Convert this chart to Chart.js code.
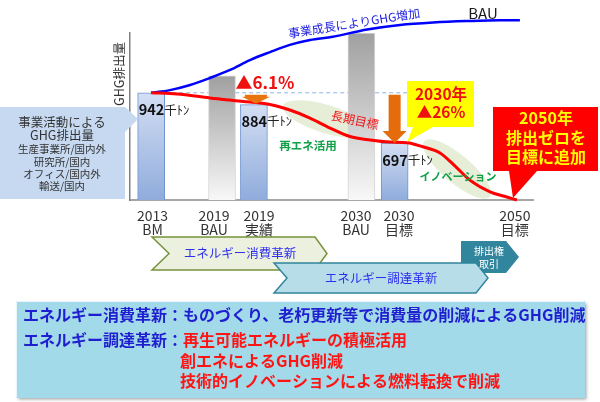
<!DOCTYPE html>
<html>
<head>
<meta charset="utf-8">
<script src="https://cdn.jsdelivr.net/npm/chart.js@4.4.1/dist/chart.umd.min.js"></script>
<style>
  html, body { margin: 0; padding: 0; background: #fff; }
  canvas { display: block; }
</style>
</head>
<body>
<canvas id="chart" width="600" height="402"></canvas>
<script>
const JP = '"Noto Sans CJK JP", "Noto Sans", sans-serif';

// 実績・目標 (千ﾄﾝ) : 2013 BM, 2019 実績, 2030 目標
const resultPos = [0.63, 3.69, 7.88];
const resultValues = [942, 884, 697];
// BAU : 2019, 2030
const bauPos = [2.74, 6.89];
const bauValues = [1024, 1233];

// 横軸ラベル
const tickPos = [0.67, 2.50, 3.84, 6.73, 8.01, 11.46];
const tickLabels = [['2013', 'BM'], ['2019', 'BAU'], ['2019', '実績'], ['2030', 'BAU'], ['2030', '目標'], ['2050', '目標']];

// BAU曲線 (事業成長によりGHG増加)
const bauLineX = [0.625, 1.19, 1.79, 2.38, 2.98, 3.57, 4.17, 4.76, 5.36, 6.04, 7.06, 8.04, 9.03, 10.03, 11.02, 11.61];
const bauLineY = [942, 955, 980, 1014, 1053, 1101, 1140, 1175, 1199, 1215, 1250, 1272, 1284, 1291, 1295, 1295];

// 長期目標曲線
const targetLineX = [0.625, 1.40, 2.38, 3.57, 4.17, 4.76, 5.36, 5.96, 6.55, 7.15, 7.74, 8.25, 8.72, 9.23, 9.68, 10.12, 10.72, 11.17, 11.52];
const targetLineY = [942, 936, 917, 897, 885, 858, 819, 770, 729, 712, 702, 699, 679, 649, 585, 517, 460, 437, 420];

function text(c, s, x, y, font, color, align = 'center', rot = 0) {
    c.save();
    c.font = font;
    c.fillStyle = color;
    c.textAlign = align;
    c.textBaseline = 'middle';
    c.translate(x, y);
    if (rot) c.rotate(rot * Math.PI / 180);
    c.fillText(s, 0, 0);
    c.restore();
}

function poly(c, pts, fill, stroke, lw) {
    c.beginPath();
    pts.forEach((p, i) => i ? c.lineTo(p[0], p[1]) : c.moveTo(p[0], p[1]));
    c.closePath();
    if (fill) { c.fillStyle = fill; c.fill(); }
    if (stroke) { c.strokeStyle = stroke; c.lineWidth = lw || 1; c.stroke(); }
}

function ellipse(c, x, y, rx, ry, deg, fill) {
    c.beginPath();
    c.ellipse(x, y, rx, ry, deg * Math.PI / 180, 0, Math.PI * 2);
    c.fillStyle = fill;
    c.fill();
}

function chevron(c, x0, x1, y0, y1, depth, notch, fill, stroke) {
    const ym = (y0 + y1) / 2;
    const pts = [[x0, y0], [x1, y0], [x1 + depth, ym], [x1, y1], [x0, y1]];
    if (notch) pts.push([x0 + notch, ym]);
    poly(c, pts, fill, stroke, 1.5);
}

const decor = {
    id: 'decor',
    beforeDatasetsDraw(chart) {
        const c = chart.ctx, sx = chart.scales.x, sy = chart.scales.y;
        c.save();
        // 再エネ活用・イノベーションの楕円
        ellipse(c, 326, 119, 45, 14, 17, '#e6eed8');
        ellipse(c, 457, 169, 43, 14, 40, '#e6eed8');
        // 基準年の破線
        const yb = sy.getPixelForValue(resultValues[0]);
        c.strokeStyle = '#8db3e2';
        c.lineWidth = 1;
        c.setLineDash([4, 3]);
        c.beginPath();
        c.moveTo(sx.getPixelForValue(resultPos[0]), yb);
        c.lineTo(sx.getPixelForValue(resultPos[2]) + 13, yb);
        c.stroke();
        c.restore();
    },
    afterDraw(chart) {
        const c = chart.ctx, sx = chart.scales.x, sy = chart.scales.y;
        c.save();

        // 縦軸タイトル
        text(c, 'GHG排出量', 119, 74, '12.5px ' + JP, '#333', 'center', -90);

        // 棒のラベル
        chart.getDatasetMeta(0).data.forEach((bar, i) => {
            const left = bar.x - bar.width / 2 + 1;
            const cy = bar.y + 17;
            const num = String(resultValues[i]);
            c.font = 'bold 14.5px ' + JP;
            const w = c.measureText(num).width;
            text(c, num, left, cy, 'bold 14.5px ' + JP, '#111', 'left');
            text(c, '千ﾄﾝ', left + w, cy, '12.5px ' + JP, '#222', 'left');
        });

        // 曲線のテキスト
        text(c, 'BAU', 483, 13, '15px ' + JP, '#1a1a1a');
        text(c, '事業成長によりGHG増加', 354, 23, '12px ' + JP, '#1c1ce0', 'center', -9);
        text(c, '長期目標', 355, 120, '12px ' + JP, '#f01818', 'center', 12);
        text(c, '再エネ活用', 308, 146, 'bold 11.5px ' + JP, '#12a048');
        text(c, 'イノベーション', 458, 177, 'bold 11px ' + JP, '#12a048');

        // ▲6.1% と小矢印
        const y0 = sy.getPixelForValue(resultValues[0]);
        const y1 = sy.getPixelForValue(resultValues[1]);
        const x1 = sx.getPixelForValue(resultPos[1]) + 2;
        text(c, '▲6.1%', 265, 83, 'bold 17px ' + JP, '#f01010');
        poly(c, [[x1 - 11, y0 + 2], [x1 + 11, y0 + 2], [x1 + 11, y0 + 4], [x1 + 14, y0 + 4],
                 [x1, y1 - 1], [x1 - 14, y0 + 4], [x1 - 11, y0 + 4]], '#e8730f');

        // 黄色の吹き出し
        poly(c, [[407, 81], [474, 81], [474, 127], [433, 127], [407, 142], [413, 127], [407, 127]], '#ffff00');
        text(c, '2030年', 441, 94, 'bold 15.5px ' + JP, '#f01010');
        text(c, '▲26%', 441, 112, 'bold 15.5px ' + JP, '#f01010');

        // 2030年の大矢印
        const x2 = sx.getPixelForValue(resultPos[2]);
        const y2 = sy.getPixelForValue(resultValues[2]);
        poly(c, [[x2 - 6, y0 + 2], [x2 + 6, y0 + 2], [x2 + 6, y2 - 12], [x2 + 12, y2 - 12],
                 [x2, y2], [x2 - 12, y2 - 12], [x2 - 6, y2 - 12]], '#e46c0a');

        // 2050年の赤い吹き出し
        poly(c, [[493, 107], [598, 107], [598, 171], [537, 171], [513, 198], [509, 171], [493, 171]], '#ff0000');
        text(c, '2050年', 546, 118, 'bold 16px ' + JP, '#ffff00');
        text(c, '排出ゼロを', 546, 137.5, 'bold 16px ' + JP, '#ffff00');
        text(c, '目標に追加', 546, 156.5, 'bold 16px ' + JP, '#ffff00');

        // 左の吹き出し
        poly(c, [[0, 107], [125, 107], [138, 119], [125, 132], [125, 199], [0, 199]], '#c6d9f1');
        text(c, '事業活動による', 62, 122, '12.5px ' + JP, '#333');
        text(c, 'GHG排出量', 62, 135.5, '12.5px ' + JP, '#333');
        text(c, '生産事業所/国内外', 62, 149.5, '10.5px ' + JP, '#333');
        text(c, '研究所/国内', 62, 162, '10.5px ' + JP, '#333');
        text(c, 'オフィス/国内外', 62, 174, '10.5px ' + JP, '#333');
        text(c, '輸送/国内', 62, 186.5, '10.5px ' + JP, '#333');

        // 矢羽根
        chevron(c, 152, 315, 237, 270, 12, 17, '#ebf1de', '#76923c');
        chevron(c, 461, 506, 241, 273, 13, 0, '#31859c', null);
        chevron(c, 274, 476, 263, 293, 12, 13, '#b7dee8', '#31859c');
        text(c, 'エネルギー消費革新', 240, 253.5, '12.5px ' + JP, '#2f2ff0');
        text(c, 'エネルギー調達革新', 381, 278, '12.5px ' + JP, '#2f2ff0');
        text(c, '排出権', 489, 251, '10px ' + JP, '#fff');
        text(c, '取引', 489, 264.5, '10px ' + JP, '#fff');

        // 下の説明ボックス
        c.save();
        c.shadowColor = 'rgba(0,0,0,0.35)';
        c.shadowBlur = 3;
        c.shadowOffsetX = 1.5;
        c.shadowOffsetY = 1.5;
        c.fillStyle = '#a3daea';
        c.fillRect(16, 301, 569, 97);
        c.restore();
        c.strokeStyle = '#e8f6fb';
        c.lineWidth = 1;
        c.beginPath(); c.moveTo(16.5, 397.5); c.lineTo(16.5, 301.5); c.lineTo(584.5, 301.5); c.stroke();

        const fb = 'bold 16px ' + JP;
        const blue = '#1f1fcf', red = '#ff1414';
        text(c, 'エネルギー消費革新：ものづくり、老朽更新等で消費量の削減によるGHG削減', 23, 315, fb, blue, 'left');
        const head = 'エネルギー調達革新：';
        c.font = fb;
        const rx = 23 + c.measureText(head).width;
        text(c, head, 23, 340, fb, blue, 'left');
        text(c, '再生可能エネルギーの積極活用', rx, 340, fb, red, 'left');
        text(c, '創エネによるGHG削減', rx - 3, 361, fb, red, 'left');
        text(c, '技術的イノベーションによる燃料転換で削減', rx - 3, 381, fb, red, 'left');

        c.restore();
    }
};

function barGradient(top, bottom) {
    return (ctx) => {
        const ch = ctx.chart;
        const area = ch.chartArea;
        if (!area || !ctx.raw) return bottom;
        const yTop = ch.scales.y.getPixelForValue(ctx.raw.y);
        const g = ch.ctx.createLinearGradient(0, yTop, 0, area.bottom);
        g.addColorStop(0, top);
        g.addColorStop(1, bottom);
        return g;
    };
}

new Chart(document.getElementById('chart'), {
    type: 'bar',
    data: {
        datasets: [
            {
                label: '実績・目標',
                data: resultPos.map((x, i) => ({ x, y: resultValues[i] })),
                backgroundColor: barGradient('#d3def3', '#90acdc'),
                borderColor: '#6f94cf',
                borderWidth: 1,
                barThickness: 27,
                grouped: false,
                order: 2
            },
            {
                label: 'BAU',
                data: bauPos.map((x, i) => ({ x, y: bauValues[i] })),
                backgroundColor: barGradient('#a0a0a0', '#f8f8f8'),
                borderColor: '#d6d6d6',
                borderWidth: 1,
                barThickness: 27,
                grouped: false,
                order: 2
            },
            {
                type: 'line',
                label: 'BAU曲線',
                data: bauLineX.map((x, i) => ({ x, y: bauLineY[i] })),
                borderColor: '#0000ff',
                borderWidth: 2.5,
                pointRadius: 0,
                cubicInterpolationMode: 'monotone',
                clip: false,
                order: 1
            },
            {
                type: 'line',
                label: '長期目標',
                data: targetLineX.map((x, i) => ({ x, y: targetLineY[i] })),
                borderColor: '#ff0000',
                borderWidth: 3,
                pointRadius: 0,
                cubicInterpolationMode: 'monotone',
                clip: false,
                order: 0
            }
        ]
    },
    options: {
        responsive: false,
        devicePixelRatio: 1,
        animation: false,
        events: [],
        layout: { padding: { left: 130, right: 67, top: 33, bottom: 152 } },
        plugins: { legend: { display: false }, tooltip: { enabled: false } },
        scales: {
            x: {
                type: 'linear',
                min: 0,
                max: 12,
                offset: false,
                grid: { display: false, drawTicks: false, offset: false },
                border: { display: true, color: '#a6a6a6', width: 2 },
                afterFit: (s) => { s.height = 50; },
                afterBuildTicks: (s) => { s.ticks = tickPos.map(v => ({ value: v })); },
                ticks: {
                    autoSkip: false,
                    maxRotation: 0,
                    padding: 9,
                    color: '#333',
                    font: { family: JP, size: 14, lineHeight: 0.98 },
                    callback: (v, i) => tickLabels[i]
                }
            },
            y: {
                min: 420,
                max: 1233,
                grid: { display: false, drawTicks: false },
                border: { display: true, color: '#808080', width: 1.5 },
                ticks: { display: false },
                afterFit: (s) => { s.width = 0; }
            }
        }
    },
    plugins: [decor]
});
</script>
</body>
</html>
